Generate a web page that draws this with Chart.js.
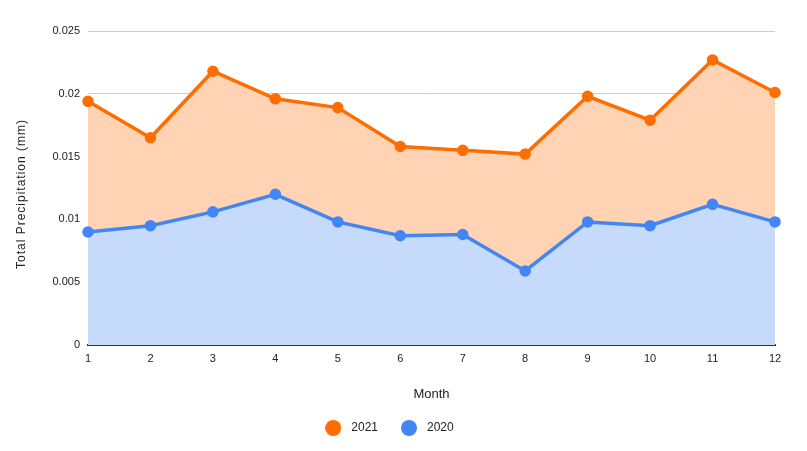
<!DOCTYPE html>
<html>
<head>
<meta charset="utf-8">
<script src="https://cdn.jsdelivr.net/npm/chart.js@4/dist/chart.umd.min.js"></script>
<style>
html,body{margin:0;padding:0;background:#fff;}
#wrap{width:807px;height:451px;position:relative;}
</style>
</head>
<body>
<div id="wrap"><canvas id="c" width="807" height="451"></canvas></div>
<script>
const months = ['1','2','3','4','5','6','7','8','9','10','11','12'];
const precip2021 = [0.0194, 0.0165, 0.0218, 0.0196, 0.0189, 0.0158, 0.0155, 0.0152, 0.0198, 0.0179, 0.0227, 0.0201];
const precip2020 = [0.0090, 0.0095, 0.0106, 0.0120, 0.0098, 0.0087, 0.0088, 0.0059, 0.0098, 0.0095, 0.0112, 0.0098];
const yTicks = [0, 0.005, 0.01, 0.015, 0.02, 0.025];
const yTitle = 'Total Precipitation (mm)';
const xTitle = 'Month';

const FONT = 'Liberation Sans, Arial, sans-serif';
Chart.defaults.font.family = FONT;

function dotImage(color) {
  const c = document.createElement('canvas');
  c.width = 16; c.height = 16;
  const g = c.getContext('2d');
  g.fillStyle = color;
  g.beginPath();
  g.arc(8, 8, 8, 0, Math.PI * 2);
  g.fill();
  return c;
}

// Draws the rotated y-axis title with slight letter spacing, as in the reference
const yTitlePlugin = {
  id: 'yTitle',
  afterDraw(chart) {
    const ctx = chart.ctx;
    const area = chart.chartArea;
    ctx.save();
    ctx.letterSpacing = '1px';
    ctx.font = '12px ' + FONT;
    ctx.fillStyle = '#222';
    ctx.textAlign = 'center';
    ctx.textBaseline = 'middle';
    ctx.translate(22, (area.top + area.bottom) / 2 + 6);
    ctx.rotate(-Math.PI / 2);
    ctx.fillText(yTitle, 0, 0);
    ctx.restore();
  }
};

new Chart(document.getElementById('c'), {
  type: 'line',
  data: {
    labels: months,
    datasets: [
      {
        label: '2021',
        data: precip2021,
        borderColor: '#ff6d01',
        backgroundColor: '#ffd3b3',
        pointBackgroundColor: '#ff6d01',
        pointBorderColor: '#ff6d01',
        borderWidth: 3.5,
        pointRadius: 4,
        fill: '+1',
        tension: 0
      },
      {
        label: '2020',
        data: precip2020,
        borderColor: '#4285f4',
        backgroundColor: '#c6dafc',
        pointBackgroundColor: '#4285f4',
        pointBorderColor: '#4285f4',
        borderWidth: 3.5,
        pointRadius: 4,
        fill: 'origin',
        tension: 0
      }
    ]
  },
  plugins: [yTitlePlugin],
  options: {
    responsive: false,
    animation: false,
    layout: { padding: { left: 0, right: 32, top: 31, bottom: 7 } },
    plugins: {
      filler: { drawTime: 'beforeDatasetsDraw' },
      legend: {
        position: 'bottom',
        labels: {
          usePointStyle: true,
          pointStyleWidth: 24,
          boxHeight: 12,
          padding: 19,
          color: '#222',
          font: { size: 12, family: FONT },
          generateLabels(chart) {
            const items = Chart.defaults.plugins.legend.labels.generateLabels(chart);
            items.forEach(it => {
              const ds = chart.data.datasets[it.datasetIndex];
              it.pointStyle = dotImage(ds.borderColor);
            });
            return items;
          }
        }
      },
      tooltip: { enabled: false }
    },
    scales: {
      x: {
        type: 'category',
        offset: false,
        grid: { display: false, drawTicks: false },
        border: { display: true, color: '#333', width: 2 },
        ticks: { color: '#222', font: { size: 11 }, padding: 7, maxRotation: 0, autoSkip: false },
        title: { display: true, text: xTitle, color: '#222', font: { size: 13 }, padding: { top: 20, bottom: 1 } },
        afterFit: (s) => { s.height = 58; }
      },
      y: {
        min: 0,
        max: 0.025,
        afterBuildTicks: (s) => { s.ticks = yTicks.map(v => ({ value: v })); },
        grid: { color: '#cccccc', drawTicks: false, lineWidth: 1 },
        border: { display: false },
        ticks: {
          color: '#222',
          font: { size: 11 },
          padding: 8,
          callback: (v) => String(+Number(v).toFixed(3))
        },
        title: { display: false },
        afterFit: (s) => { s.width = 88; }
      }
    }
  }
});
</script>
</body>
</html>
